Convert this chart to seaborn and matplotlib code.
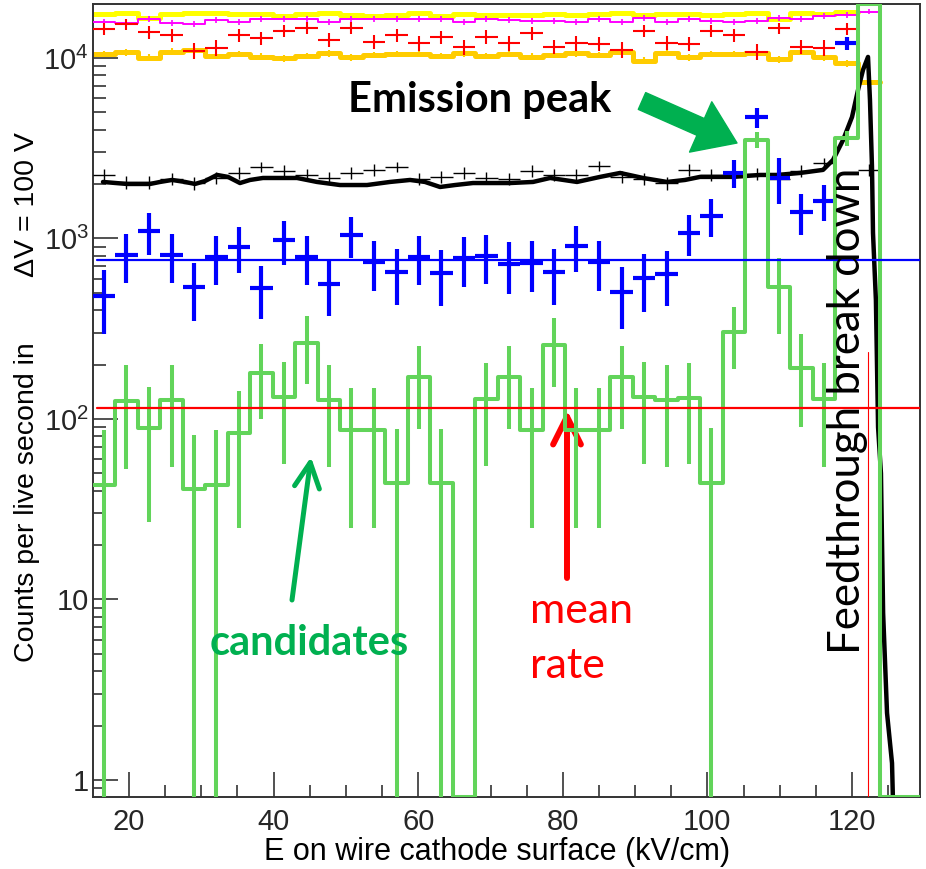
import numpy as np
import matplotlib
matplotlib.use("Agg")
import matplotlib.pyplot as plt
import seaborn as sns
from matplotlib.ticker import FixedLocator, FixedFormatter, NullFormatter

# ---------------- data ----------------
bin_centers = [16.54, 19.65, 22.76, 25.88, 28.99, 32.10, 35.21, 38.32, 41.44, 44.55,
               47.66, 50.77, 53.88, 57.00, 60.11, 63.22, 66.33, 69.44, 72.56, 75.67,
               78.78, 81.89, 85.00, 88.12, 91.23, 94.34, 97.45, 100.56, 103.68, 106.79,
               109.90, 113.01, 116.12, 119.24, 122.35, 125.46, 128.57]

# candidates (green histogram) ; bin 34 runs off the top of the frame
green_rate = [43, 126, 89, 127, 41, 43, 84, 180, 132, 264, 127, 87, 87, 44, 171, 44, 0,
              129, 171, 87, 257, 87, 87, 171, 132, 127, 130, 44, 303, 3515, 539, 192,
              129, 3600, 19900, 0, 0]
green_err = [44, 73, 62, 73, 41, 44, 59, 80, 76, 107, 73, 62, 62, 44, 83, 44, 0,
             74, 83, 62, 107, 62, 62, 83, 76, 73, 74, 45, 115, 350, 245, 102,
             75, 340, 0, 0, 0]

blue_rate = [480, 810, 1100, 810, 539, 790, 897, 532, 981, 790, 560, 1045, 741, 652, 790,
             644, 780, 800, 725, 732, 652, 908, 741, 505, 604, 635, 1072, 1333, 2307, 4710,
             2163, 1403, 1614, 12100]
blue_err = [185, 245, 290, 245, 190, 240, 257, 175, 270, 240, 190, 265, 230, 222, 240,
            220, 240, 240, 230, 230, 222, 257, 230, 188, 212, 215, 275, 320, 410, 600,
            620, 360, 360, 1000]

black_rate = [2248, 2056, 2056, 2137, 2030, 2163, 2307, 2490, 2370, 2248, 2163, 2307, 2400,
              2490, 2137, 2190, 2307, 2163, 2137, 2370, 2248, 2248, 2520, 2190, 2137, 2030,
              2400, 2250, 2250, 2280, 2137, 2370, 2630, np.nan, 2400]
black_err = 170

red_rate = [14420, 15430, 13880, 13410, 10980, 11400, 13410, 12860, 14170, 14720, 12580,
            14720, 12310, 13410, 12060, 13020, 11470, 13120, 12060, 13700, 11550, 12060,
            11960, 11080, 14170, 12150, 11960, 14170, 13410, 10840, 14610, 11550, 11400,
            14420]
red_err = 1100

magenta_rate = [15890, 15690, 16450, 15570, 15370, 16240, 15890, 16390, 16450, 16390, 15890,
                16450, 16390, 16390, 16390, 16390, 15890, 16390, 16240, 16100, 16100, 15890,
                16450, 15890, 16600, 15890, 16450, 16100, 15890, 16100, 16600, 16390, 17090,
                17310, 18050]
magenta_err = 600

yellow_rate = [17530, 17690, 16730, 17470, 17830, 17690, 17470, 17530, 17150, 17530, 17830,
               17310, 17150, 17310, 17690, 17150, 17530, 17310, 17310, 17310, 17530, 17310,
               17530, 17830, 17310, 17530, 17530, 17310, 17530, 17830, 16390, 17830, 17530,
               18050]

orange_rate = [10530, 10760, 10040, 10840, 11080, 10260, 10530, 10170, 9960, 10260, 10620,
               10090, 10390, 10530, 10530, 10260, 10620, 10260, 10530, 10170, 10390, 10620,
               10390, 10840, 9660, 10700, 10090, 10530, 10530, 10700, 9840, 10840, 10090,
               9350, 7360]
orange_err = 450

# fine-binned total rate (thick black curve)
curve_field = [16.40, 19.72, 22.90, 24.29, 25.95, 27.75, 29.13, 30.51, 32.17, 33.69, 35.35,
               36.74, 38.53, 43.24, 46.00, 49.18, 52.92, 56.10, 58.87, 60.94, 63.02, 65.09,
               67.58, 72.70, 75.88, 78.24, 81.96, 85.15, 87.92, 91.09, 94.41, 96.90, 98.98,
               103.54, 107.28, 109.63, 112.81, 115.99, 117.37, 118.76, 120.00, 120.83, 121.52,
               122.21, 122.48, 122.76, 122.90, 123.30, 123.60, 124.00, 124.30, 124.84, 125.53,
               125.67]
curve_rate = [2056, 2004, 2004, 2056, 2109, 2056, 2004, 2080, 2248, 2193, 2028, 2109, 2163,
              2163, 2056, 1977, 1977, 2056, 2109, 2056, 1928, 1977, 2028, 2028, 2056, 2163,
              2056, 2193, 2306, 2163, 2056, 2109, 2193, 2193, 2248, 2248, 2306, 2398, 2723,
              3510, 4710, 6650, 8590, 10130, 5850, 2490, 1073, 456, 90, 50, 8.4, 2.35, 1.24,
              0.74]

mean_all_rate = 760
mean_candidate_rate = 115
breakdown_field = 122.2
breakdown_marker_top = 235

x_ticks_major = [20, 40, 60, 80, 100, 120]
y_ticks_major = [1, 10, 100, 1000, 10000]
y_tick_labels = ["1", "10", "$10^{2}$", "$10^{3}$", "$10^{4}$"]

# ---------------- style ----------------
sns.set_theme(style="white")
plt.rcParams['font.family'] = ['Liberation Sans', 'DejaVu Sans']
plt.rcParams['mathtext.fontset'] = 'custom'
plt.rcParams['mathtext.rm'] = 'Liberation Sans'
plt.rcParams['mathtext.it'] = 'Liberation Sans'

GREEN_H = '#62D45A'
GREEN_A = '#00B050'
W, H = 926, 869
X0, X1 = 15.02, 129.4
Y0, Y1 = 0.805, 19900

fig = plt.figure(figsize=(W / 100, H / 100), dpi=100)
ax = fig.add_axes([93 / W, (H - 797) / H, (920 - 93) / W, (797 - 4) / H])
ax.set_yscale('log')

c = np.array(bin_centers)
d = c[1] - c[0]
edges = np.concatenate([[c[0] - d / 2], (c[:-1] + c[1:]) / 2, [c[-1] + d / 2]])
half = np.full(len(c), d / 2)


def step_line(vals, color, lw, z):
    n = len(vals)
    xs = list(edges[:n + 1])
    ys = list(vals) + [vals[-1]]
    sns.lineplot(x=xs, y=ys, drawstyle='steps-post', color=color, lw=lw, ax=ax,
                 estimator=None, sort=False, zorder=z)


# yellow & orange thick step histograms
step_line(yellow_rate, '#FFFF00', 3.6, 2)
step_line(orange_rate, '#FFCC00', 3.6, 2)
ax.errorbar(c[:len(orange_rate)], orange_rate, yerr=orange_err, fmt='none',
            ecolor='#FFCC00', elinewidth=1.5, zorder=2)
# magenta thin histogram with small error ticks
step_line(magenta_rate, '#FF00FF', 1.4, 3)
ax.errorbar(c[:len(magenta_rate)], magenta_rate, yerr=magenta_err, fmt='none',
            ecolor='#FF00FF', elinewidth=1.2, zorder=3)
# red crosses
ax.errorbar(c[:len(red_rate)], red_rate, xerr=half[:len(red_rate)], yerr=red_err,
            fmt='none', ecolor='#FF0000', elinewidth=1.5, zorder=4)

# black thin crosses and thick curve
ax.errorbar(c[:len(black_rate)], black_rate, xerr=half[:len(black_rate)], yerr=black_err,
            fmt='none', ecolor='black', elinewidth=1.0, zorder=4)
sns.lineplot(x=curve_field, y=curve_rate, color='black', lw=3.2, ax=ax,
             estimator=None, sort=False, zorder=5)

# blue crosses
ax.errorbar(c[:len(blue_rate)], blue_rate, xerr=half[:len(blue_rate)], yerr=blue_err,
            fmt='none', ecolor='#0000FF', elinewidth=3.0, zorder=6)

# green candidates histogram (empty bins drawn on the axis floor, as ROOT does)
g = np.array(green_rate, dtype=float)
g_plot = np.where(g <= 0, Y0, g)
step_line(list(g_plot), GREEN_H, 2.9, 7)
ge = np.array(green_err, dtype=float)
m = ge > 0
ax.errorbar(c[m], g[m], yerr=ge[m], fmt='none', ecolor=GREEN_H, elinewidth=2.9, zorder=7)

# mean lines and breakdown marker
sns.lineplot(x=[15.6, X1], y=[mean_all_rate, mean_all_rate], color='#0000FF', lw=1.6,
             ax=ax, zorder=8)
sns.lineplot(x=[15.6, X1], y=[mean_candidate_rate, mean_candidate_rate], color='#FF0000',
             lw=1.6, ax=ax, zorder=8)
ax.plot([breakdown_field, breakdown_field], [Y0, breakdown_marker_top], color='#FF0000',
        lw=0.8, zorder=8)

ax.set_xlim(X0, X1)
ax.set_ylim(Y0, Y1)

# axes / ticks (ROOT look)
for s in ax.spines.values():
    s.set_color('#333333')
    s.set_linewidth(1.4)
ax.xaxis.set_major_locator(FixedLocator(x_ticks_major))
ax.xaxis.set_minor_locator(FixedLocator(np.arange(15, 130, 5)))
ax.yaxis.set_major_locator(FixedLocator(y_ticks_major))
ax.yaxis.set_major_formatter(FixedFormatter(y_tick_labels))
minors = [k * 10.0 ** e for e in range(-1, 5) for k in range(2, 10)]
ax.yaxis.set_minor_locator(FixedLocator(minors))
ax.yaxis.set_minor_formatter(NullFormatter())
ax.tick_params(which='major', direction='in', length=18, width=1.1, color='#222222',
               top=False, right=False, bottom=True, left=True, labelsize=21)
ax.tick_params(which='minor', direction='in', length=9, width=1.1, color='#222222',
               top=False, right=False, bottom=True, left=True)
ax.tick_params(axis='x', pad=8)
ax.tick_params(axis='y', pad=3, labelsize=21)
ax.set_xlabel('')
ax.set_ylabel('')
ax.grid(False)

fig.text(497 / W, 1 - 852 / H, 'E on wire cathode surface (kV/cm)', ha='center',
         va='center', fontsize=22, color='black')
fig.text(27 / W, 1 - 502 / H, 'Counts per live second in', rotation=90, ha='center',
         va='center', fontsize=20.5, color='black')
fig.text(27 / W, 1 - 205 / H, 'ΔV = 100 V', rotation=90, ha='center',
         va='center', fontsize=20.5, color='black')

# annotations
ann = ['Lato', 'DejaVu Sans']
fig.text(348 / W, 1 - 112 / H, 'Emission peak', ha='left', va='baseline', fontsize=30,
         fontweight='bold', family=ann, color='black')
fig.text(309 / W, 1 - 655 / H, 'candidates', ha='center', va='baseline', fontsize=30,
         fontweight='bold', family=ann, color=GREEN_A)
fig.text(530 / W, 1 - 623 / H, 'mean', ha='left', va='baseline', fontsize=31,
         family=ann, color='#FF0000')
fig.text(530 / W, 1 - 678 / H, 'rate', ha='left', va='baseline', fontsize=31,
         family=ann, color='#FF0000')
fig.text(848 / W, 1 - 411 / H, 'Feedthrough break down', rotation=90, ha='center',
         va='center', fontsize=31.5, family=ann, color='black')


def fp(x, y):
    return (x, H - y)


ax.annotate('', xy=fp(737, 143), xytext=fp(642, 101), xycoords='figure pixels',
            textcoords='figure pixels',
            arrowprops=dict(arrowstyle='simple,head_length=1.3,head_width=1.8,tail_width=0.6',
                            color=GREEN_A, mutation_scale=22, shrinkA=0, shrinkB=0))
ax.annotate('', xy=fp(311, 457), xytext=fp(292, 600), xycoords='figure pixels',
            textcoords='figure pixels',
            arrowprops=dict(arrowstyle='->,head_length=0.9,head_width=0.45', color=GREEN_A,
                            lw=3.6, shrinkA=0, shrinkB=0, mutation_scale=20))
ax.annotate('', xy=fp(567, 410), xytext=fp(567, 578), xycoords='figure pixels',
            textcoords='figure pixels',
            arrowprops=dict(arrowstyle='->,head_length=1.0,head_width=0.5', color='#FF0000',
                            lw=4.3, shrinkA=0, shrinkB=0, mutation_scale=20))

fig.savefig('out.png', dpi=100)
